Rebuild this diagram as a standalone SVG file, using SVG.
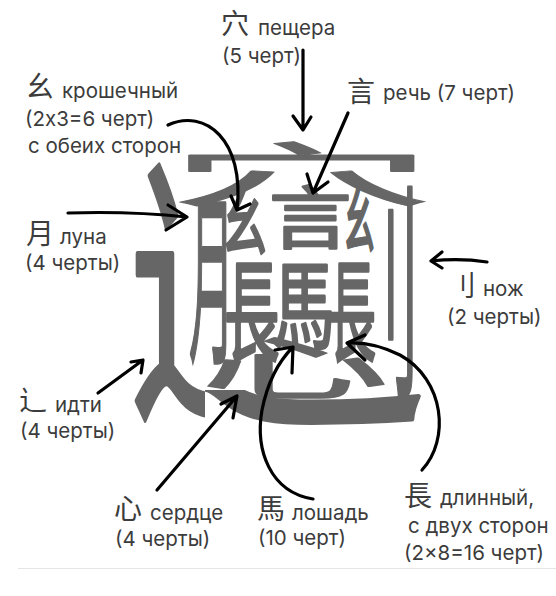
<svg xmlns="http://www.w3.org/2000/svg" width="556" height="596" viewBox="0 0 556 596">
<style>
.big{font-family:"Noto Sans CJK SC","Noto Sans CJK TC",sans-serif;fill:#666666;font-size:100px;font-weight:400}
.cmp{stroke:#666666;stroke-width:2.6;stroke-linejoin:round;vector-effect:non-scaling-stroke}
.rad2{stroke-width:4.5}
.lbl{font-family:Inter,"Liberation Sans",sans-serif;font-size:20.5px;fill:#3c3c3c}
.rad{font-family:"Noto Sans CJK SC","Noto Sans CJK TC",sans-serif;font-size:28px;fill:#3c3c3c}
.arr{fill:none;stroke:#000;stroke-width:3.2;stroke-linecap:round;stroke-linejoin:round}
</style>
<defs>
<clipPath id="clipL"><rect x="0" y="0" width="186" height="596"/><rect x="186" y="380" width="19" height="60"/></clipPath>
<clipPath id="clipR"><rect x="205" y="390" width="351" height="206"/></clipPath>
</defs>
<rect width="556" height="596" fill="#ffffff"/>
<g id="character">
<g clip-path="url(#clipL)"><text class="big cmp rad2" transform="translate(128 145) scale(1.65 2.93)" y="88">辶</text></g>
<g clip-path="url(#clipR)"><text class="big cmp rad2" transform="translate(137 151) scale(2.92 2.93)" y="88">辶</text></g>
<text class="big cmp" transform="translate(167 139) scale(2.67 0.7)" y="88">穴</text>
<text class="big cmp" transform="translate(222.5 182.5) scale(0.45 0.75)" y="88">幺</text>
<text class="big cmp" transform="translate(269 183) scale(0.825 0.68)" y="88">言</text>
<text class="big cmp" transform="translate(344 183) scale(0.31 0.72)" y="88">幺</text>
<text class="big cmp" transform="translate(189 186) scale(0.45 1.85)" y="88">月</text>
<text class="big cmp" transform="translate(224 256) scale(0.555 1.1)" y="88">長</text>
<text class="big cmp" transform="translate(273 257) scale(0.62 0.95)" y="88">馬</text>
<text class="big cmp" transform="translate(328 256) scale(0.48 1.1)" y="88">長</text>
<text class="big cmp" transform="translate(357.6 176) scale(0.62 2.31)" y="88">刂</text>
<text class="big cmp" transform="translate(200.5 333) scale(1.89 0.69)" y="88">心</text>
</g>
<g id="label-xue">
<text class="rad" x="221" y="33.5">穴</text>
<text class="lbl" x="258" y="35">пещера</text>
<text class="lbl" x="222" y="63">(5 черт)</text>
</g>
<g id="label-yao">
<text class="rad" x="26" y="97">幺</text>
<text class="lbl" x="62" y="98">крошечный</text>
<text class="lbl" x="25" y="126">(2х3=6 черт)</text>
<text class="lbl" x="28" y="153">с обеих сторон</text>
</g>
<g id="label-yan">
<text class="rad" x="347" y="102">言</text>
<text class="lbl" x="383" y="100">речь (7 черт)</text>
</g>
<g id="label-yue">
<text class="rad" x="26" y="244">月</text>
<text class="lbl" x="60" y="244">луна</text>
<text class="lbl" x="25" y="270">(4 черты)</text>
</g>
<g id="label-dao">
<text class="rad" x="448" y="296">刂</text>
<text class="lbl" x="483" y="296">нож</text>
<text class="lbl" x="447" y="324">(2 черты)</text>
</g>
<g id="label-chuo">
<text class="rad" x="19" y="411">辶</text>
<text class="lbl" x="55" y="412">идти</text>
<text class="lbl" x="20" y="438">(4 черты)</text>
</g>
<g id="label-xin">
<text class="rad" x="114" y="519">心</text>
<text class="lbl" x="150" y="520">сердце</text>
<text class="lbl" x="115" y="546">(4 черты)</text>
</g>
<g id="label-ma">
<text class="rad" x="257" y="519">馬</text>
<text class="lbl" x="292" y="520">лошадь</text>
<text class="lbl" x="258" y="545">(10 черт)</text>
</g>
<g id="label-chang">
<text class="rad" x="404" y="506">長</text>
<text class="lbl" x="440" y="505">длинный,</text>
<text class="lbl" x="408" y="533">с двух сторон</text>
<text class="lbl" x="404" y="560">(2×8=16 черт)</text>
</g>
<g id="connectors" class="arr">
<path d="M303,50 L303,130 M293,116 L303,130 L311,117"/>
<path d="M348,113 L313,193 M307,174 L313,193 L328,182"/>
<path d="M168,125 C205,108 245,140 237,210 M231,196 L237,210 L250,204"/>
<path d="M68,213 Q130,211 187,217 M168,205 L187,217 L166,230"/>
<path d="M487,262 Q460,258 431,261 M442,252 L431,261 L442,268"/>
<path d="M98,393 L143,360 M131,362 L143,360 L141,373"/>
<path d="M157,490 L237,396 M221,404 L237,396 L233,418"/>
<path d="M313,499 C270,492 255,450 262,410 C268,380 280,360 293,347 M275,350 L293,347 L292,373"/>
<path d="M422,470 C450,440 445,380 400,355 C380,345 362,342 347,343 M365,335 L347,343 L365,360"/>
</g>
<line x1="18" y1="568.5" x2="556" y2="568.5" stroke="#e6e6e6" stroke-width="1"/>
</svg>
